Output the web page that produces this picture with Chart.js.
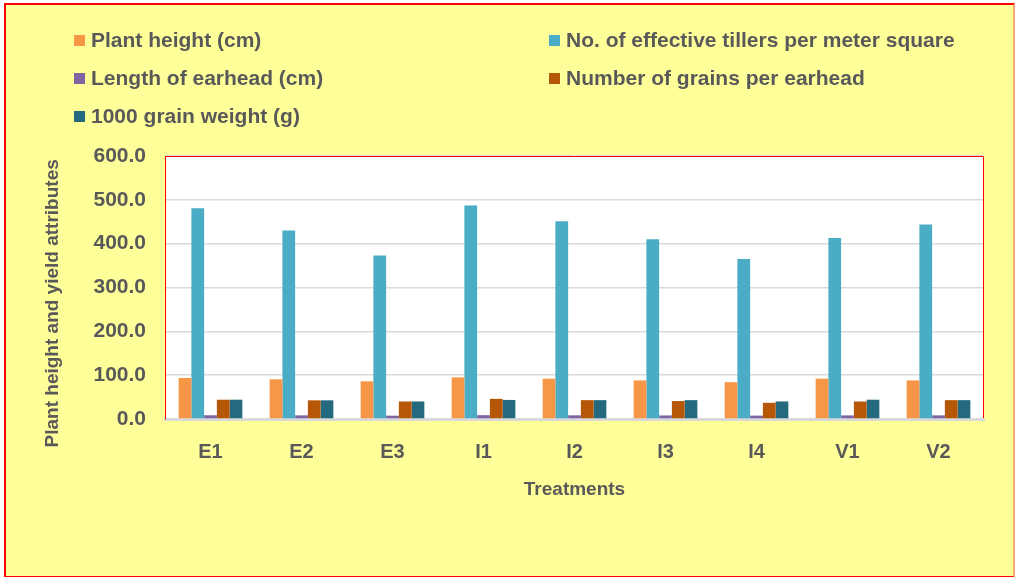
<!DOCTYPE html>
<html>
<head>
<meta charset="utf-8">
<script src="https://cdn.jsdelivr.net/npm/chart.js@4"></script>
<style>
  body { margin: 0; background: #ffffff; font-family: "Liberation Sans", Arial, sans-serif; }
  #frame {
    position: absolute; left: 4px; top: 3px; width: 1007px; height: 571px;
    background: #ffff99; border: 2px solid #ff0000; border-right-color: #f9a870;
  }
  #chart { position: absolute; left: 0; top: 0; }
  #legend { position: absolute; left: 0; top: 0; width: 1015px; height: 140px; }
  .item {
    position: absolute; height: 24px; line-height: 24px;
    font-weight: bold; font-size: 21px; color: #595959; white-space: nowrap;
  }
  .item span.box { display: inline-block; width: 11px; height: 11px; margin-right: 6px; vertical-align: 1px; }
</style>
</head>
<body>
<div id="frame"></div>
<canvas id="chart" width="1015" height="577"></canvas>
<div id="legend"></div>
<script>
// categories and series
var treatments = ["E1", "E2", "E3", "I1", "I2", "I3", "I4", "V1", "V2"];

var plantHeight = [93.5, 90.5, 86.0, 95.0, 92.0, 88.0, 84.0, 92.0, 88.0];
var tillers = [481, 430, 373, 487, 451, 410, 365, 413, 444];
var earheadLength = [8.5, 8.3, 7.6, 8.8, 8.4, 8.1, 7.7, 8.2, 8.3];
var grainsPerEarhead = [44.0, 42.6, 40.0, 46.0, 43.0, 41.0, 37.0, 40.0, 43.0];
var grainWeight = [44.0, 42.6, 40.0, 43.5, 43.0, 43.0, 40.0, 44.0, 43.0];

var yTicks = [0, 100, 200, 300, 400, 500, 600];

var textColor = "#595959";
var fontFamily = '"Liberation Sans", Arial, sans-serif';

// white plot area with red frame
var plotFrame = {
  id: "plotFrame",
  beforeDraw: function(chart) {
    var a = chart.chartArea, ctx = chart.ctx;
    ctx.save();
    ctx.fillStyle = "#ffffff";
    ctx.fillRect(a.left, a.top, a.right - a.left, a.bottom - a.top);
    ctx.restore();
  },
  afterDraw: function(chart) {
    var a = chart.chartArea, ctx = chart.ctx;
    ctx.save();
    ctx.strokeStyle = "#ff0000";
    ctx.lineWidth = 1;
    ctx.beginPath();
    ctx.moveTo(a.left + 0.5, a.top + 0.5);
    ctx.lineTo(a.right - 0.5, a.top + 0.5);
    ctx.lineTo(a.right - 0.5, a.bottom - 1);
    ctx.stroke();
    ctx.restore();
  }
};

var chart = new Chart("chart", {
  type: "bar",
  data: {
    labels: treatments,
    datasets: [
      { label: "Plant height (cm)", data: plantHeight, backgroundColor: "#f79646" },
      { label: "No. of effective tillers per meter square", data: tillers, backgroundColor: "#4bacc6" },
      { label: "Length of earhead (cm)", data: earheadLength, backgroundColor: "#8064a2" },
      { label: "Number of grains per earhead", data: grainsPerEarhead, backgroundColor: "#b65708" },
      { label: "1000 grain weight (g)", data: grainWeight, backgroundColor: "#24697d" }
    ]
  },
  options: {
    responsive: false,
    animation: false,
    categoryPercentage: 0.7,
    barPercentage: 1.0,
    layout: { padding: { top: 156, right: 31, bottom: 0, left: 0 } },
    plugins: {
      legend: { display: false },
      tooltip: { enabled: true }
    },
    scales: {
      x: {
        grid: { display: false, drawTicks: false },
        border: { display: true, color: "#d9d9d9", width: 3 },
        ticks: { color: textColor, padding: 21, font: { family: fontFamily, size: 20, weight: "bold" } },
        title: {
          display: true, text: "Treatments", color: textColor,
          font: { family: fontFamily, size: 19, weight: "bold" },
          padding: { top: 0, bottom: 76 }
        },
        afterFit: function(scale) { scale.height = 158; }
      },
      y: {
        min: 0,
        max: 600,
        afterBuildTicks: function(scale) {
          scale.ticks = yTicks.map(function(v) { return { value: v }; });
        },
        grid: { color: "#d9d9d9", lineWidth: 1.5, drawTicks: false },
        border: { display: true, color: "#ff0000", width: 1 },
        ticks: {
          color: textColor, padding: 19,
          font: { family: fontFamily, size: 21, weight: "bold" },
          callback: function(v) { return Number(v).toFixed(1); }
        },
        title: {
          display: true, text: "Plant height and yield attributes      ", color: textColor,
          font: { family: fontFamily, size: 19, weight: "bold" },
          padding: { top: 41, bottom: 0 }
        },
        afterFit: function(scale) { scale.width = 165; }
      }
    }
  },
  plugins: [plotFrame]
});

// legend in two columns, built from the chart's datasets
var legendPos = [[74, 28], [549, 28], [74, 66], [549, 66], [74, 104]];
var legend = document.getElementById("legend");
chart.data.datasets.forEach(function(ds, i) {
  var el = document.createElement("div");
  el.className = "item";
  el.style.left = legendPos[i][0] + "px";
  el.style.top = legendPos[i][1] + "px";
  var box = document.createElement("span");
  box.className = "box";
  box.style.background = ds.backgroundColor;
  el.appendChild(box);
  el.appendChild(document.createTextNode(ds.label));
  legend.appendChild(el);
});
</script>
</body>
</html>
